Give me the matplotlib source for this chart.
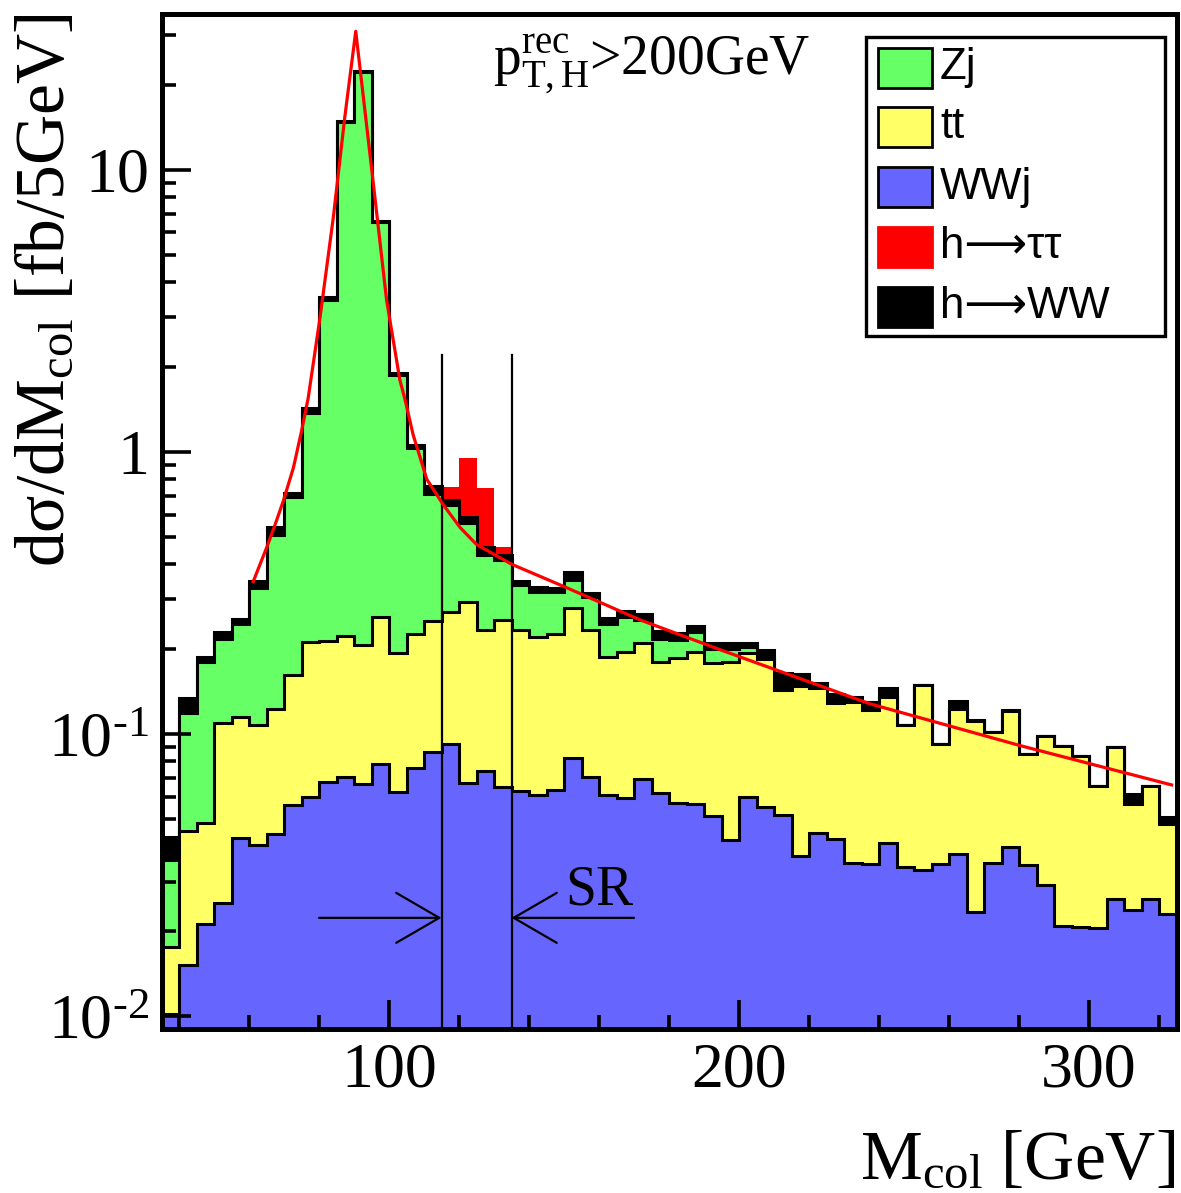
import numpy as np
import matplotlib
matplotlib.use('Agg')
import matplotlib.pyplot as plt
from matplotlib.patches import Rectangle
from matplotlib.ticker import NullFormatter

plt.rcParams['font.family'] = ['Liberation Serif', 'DejaVu Serif']
plt.rcParams['mathtext.fontset'] = 'custom'
plt.rcParams['mathtext.rm'] = 'Liberation Serif'
plt.rcParams['mathtext.it'] = 'Liberation Serif:italic'
plt.rcParams['mathtext.bf'] = 'Liberation Serif:bold'

# ---------------- data (fb / 5 GeV), bins of 5 GeV from 35 to 325 GeV ----------------
bin_lo, bin_hi, bin_w = 35, 325, 5

wwj = [0.0102, 0.0152, 0.0212, 0.0251, 0.0428, 0.0404, 0.0442, 0.0560, 0.0598, 0.0676,
       0.0704, 0.0665, 0.0783, 0.0623, 0.0757, 0.0863, 0.0922, 0.0672, 0.0741, 0.0650,
       0.0630, 0.0608, 0.0633, 0.0820, 0.0706, 0.0608, 0.0594, 0.0692, 0.0616, 0.0568,
       0.0563, 0.0512, 0.0421, 0.0600, 0.0552, 0.0516, 0.0369, 0.0445, 0.0423, 0.0348,
       0.0345, 0.0410, 0.0339, 0.0330, 0.0345, 0.0375, 0.0234, 0.0350, 0.0398, 0.0343,
       0.0292, 0.0209, 0.0207, 0.0205, 0.0261, 0.0238, 0.0261, 0.0231]

ttbar = [0.0074, 0.0301, 0.0271, 0.0839, 0.0722, 0.0676, 0.0788, 0.1060, 0.1522, 0.1464,
         0.1526, 0.1405, 0.1817, 0.1317, 0.1503, 0.1657, 0.1788, 0.2268, 0.1599, 0.1890,
         0.1710, 0.1602, 0.1637, 0.1970, 0.1634, 0.1262, 0.1356, 0.1418, 0.1184, 0.1292,
         0.1397, 0.1268, 0.1379, 0.1330, 0.1298, 0.0914, 0.1111, 0.1015, 0.0867, 0.0952,
         0.0875, 0.0940, 0.0741, 0.1160, 0.0577, 0.0855, 0.0876, 0.0670, 0.0812, 0.0504,
         0.0692, 0.0697, 0.0629, 0.0449, 0.0641, 0.0327, 0.0393, 0.0249]

zj = [0.0181, 0.0737, 0.1317, 0.108, 0.130, 0.222, 0.385, 0.528, 1.168, 3.236,
      14.58, 21.99, 6.29, 1.686, 0.804, 0.458, 0.378, 0.266, 0.197, 0.160,
      0.103, 0.098, 0.093, 0.073, 0.072, 0.058, 0.065, 0.043, 0.037, 0.029,
      0.034, 0.022, 0.020, 0.010, 0.0, 0.002, 0.0, 0.0, 0.0, 0.0,
      0.0, 0.0, 0.0, 0.0, 0.0, 0.0, 0.0, 0.0, 0.0, 0.0,
      0.0, 0.0, 0.0, 0.0, 0.0, 0.0, 0.0, 0.0]

h_ww = [0.0073, 0.015, 0.007, 0.013, 0.011, 0.018, 0.035, 0.026, 0.05, 0.08,
        0.16, 0.20, 0.06, 0.03, 0.03, 0.047, 0.027, 0.030, 0.031, 0.017,
        0.013, 0.014, 0.010, 0.024, 0.009, 0.012, 0.014, 0.013, 0.014, 0.014,
        0.012, 0.010, 0.011, 0.008, 0.014, 0.020, 0.015, 0.006, 0.010, 0.005,
        0.008, 0.011, 0.0, 0.0, 0.0, 0.008, 0.001, 0.0, 0.001, 0.0,
        0.0, 0.0, 0.0, 0.0, 0.0, 0.005, 0.0, 0.003]

h_tautau = [0.0] * 16 + [0.073, 0.36, 0.281, 0.031, 0.003] + [0.0] * 37

# fitted curve
curve_m = [61.2, 65.1, 67.4, 69.8, 72.7, 75.1, 76.9, 80.3, 84.1, 87.4, 90.5, 92.7, 95.5,
           99.3, 103.1, 104.6, 106.9, 110.8, 115.5, 120.3, 125.0, 135.0, 150.8, 171.7,
           194.6, 237.4, 280.3, 323.6]
curve_v = [0.347, 0.46, 0.55, 0.67, 0.88, 1.2, 1.55, 3.0, 6.8, 15.5, 31.0, 18.0, 9.0,
           3.46, 1.80, 1.53, 1.15, 0.80, 0.65, 0.54, 0.47, 0.40, 0.33, 0.254,
           0.199, 0.128, 0.091, 0.066]

sr_low, sr_high = 115, 135
sr_line_top = 2.2

labels = ['Zj', 'tt', 'WWj', 'h\u27f6\u03c4\u03c4', 'h\u27f6WW']
colors = ['#66ff66', '#ffff66', '#6666ff', '#ff0000', '#000000']

# ---------------- figure ----------------
W, H = 1181, 1193
fig = plt.figure(figsize=(W / 100, H / 100), dpi=100)
ax_l, ax_r, ax_t, ax_b = 161.5, 1176.5, 14, 1029
ax = fig.add_axes([ax_l / W, 1 - ax_b / H, (ax_r - ax_l) / W, (ax_b - ax_t) / H])

edges = np.arange(bin_lo, bin_hi + bin_w, bin_w)
c_wwj = np.array(wwj)
c_tt = c_wwj + np.array(ttbar)
c_zj = c_tt + np.array(zj)
c_hww = c_zj + np.array(h_ww)
c_htt = c_hww + np.array(h_tautau)

base = 1e-4
ax.stairs(c_htt, edges, baseline=base, fill=True, facecolor=colors[3], edgecolor='none')
for top, fc in [(c_hww, colors[4]), (c_zj, colors[0]), (c_tt, colors[1]), (c_wwj, colors[2])]:
    ax.stairs(top, edges, baseline=base, fill=True, facecolor=fc, edgecolor='k',
              linewidth=2.2, joinstyle='miter')

# signal region lines and arrows
for xv in (sr_low, sr_high):
    ax.plot([xv, xv], [base, sr_line_top], color='k', lw=1.6, zorder=5)
arrow_y = 0.0223
ap = dict(arrowstyle='->,head_length=1.55,head_width=0.9', mutation_scale=20,
          lw=1.6, color='k', shrinkA=0, shrinkB=0)
ax.annotate('', xy=(sr_low, arrow_y), xytext=(80, arrow_y), arrowprops=ap, zorder=6)
ax.annotate('', xy=(sr_high, arrow_y), xytext=(170, arrow_y), arrowprops=ap, zorder=6)
ax.text(150.3, 0.0248, 'SR', fontsize=40, va='baseline', ha='left', zorder=7)

# fitted curve
ax.plot(curve_m, curve_v, color='#ff0000', lw=2.3, zorder=8)

# axes
ax.set_yscale('log')
ax.set_xlim(bin_lo, bin_hi)
ax.set_ylim(0.009, 35.7)
ax.set_xticks([100, 200, 300])
ax.set_xticklabels(['100', '200', '300'])
ax.set_xticks([v for v in range(40, 321, 20) if v % 100], minor=True)
ax.set_yticks([0.01, 0.1, 1, 10])
ax.set_yticklabels([r'$10^{\text{-2}}$', r'$10^{\text{-1}}$', '1', '10'])
ax.set_yticks([k * 10.0 ** e for e in range(-2, 2) for k in range(2, 10) if k * 10.0 ** e < 35.7],
              minor=True)
ax.yaxis.set_minor_formatter(NullFormatter())
ax.tick_params(which='both', direction='in', top=False, right=False, width=2.6)
ax.tick_params(which='major', length=21, labelsize=46)
ax.tick_params(axis='y', which='major', pad=9)
ax.tick_params(axis='x', which='major', pad=10)
ax.tick_params(which='minor', length=10)
for s in ax.spines.values():
    s.set_linewidth(3.6)

# axis titles
fig.text(1175 / W, 1 - 1178 / H, r'M$_{\mathrm{col}}$ [GeV]', fontsize=50,
         ha='right', va='baseline')
fig.text(15 / W, 1 - 14 / H, 'd\u03c3/dM$_{\\mathrm{col}}$ [fb/5GeV]',
         fontsize=50, rotation=90, ha='left', va='top')

# cut annotation
fig.text(493 / W, 1 - 75 / H, r'p$^{\mathrm{rec}}_{\mathrm{T,H}}$>200GeV', fontsize=40,
         ha='left', va='baseline')

# legend (drawn manually, ROOT style)
def fx(px):
    return (px - ax_l) / (ax_r - ax_l)

def fy(py):
    return (ax_b - py) / (ax_b - ax_t)

ax.add_patch(Rectangle((fx(866), fy(336)), fx(1165) - fx(866), fy(37) - fy(336),
                       transform=ax.transAxes, facecolor='white', edgecolor='k',
                       linewidth=2.4, zorder=20, clip_on=False))
row_y = [68, 127, 187, 247, 307]
for lab, col, ry in zip(labels, colors, row_y):
    ec = 'k' if col not in ('#ff0000', '#000000') else col
    ax.add_patch(Rectangle((fx(878), fy(ry + 20)), fx(932) - fx(878), fy(ry - 20) - fy(ry + 20),
                           transform=ax.transAxes, facecolor=col, edgecolor=ec,
                           linewidth=2.0, zorder=21, clip_on=False))
    ax.text(fx(940), fy(ry), lab, transform=ax.transAxes, fontsize=31.5,
            family=['Liberation Sans', 'DejaVu Sans'], va='center', ha='left', zorder=22)

fig.savefig('out.png', dpi=100)
